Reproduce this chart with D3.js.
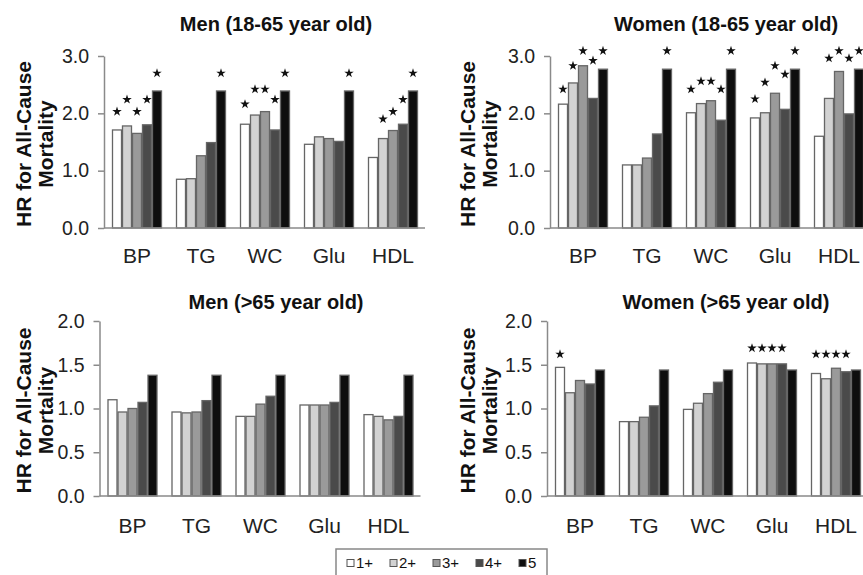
<!DOCTYPE html>
<html><head><meta charset="utf-8">
<script src="https://cdn.jsdelivr.net/npm/d3@7"></script>
<style>body{margin:0;background:#fff} svg{display:block}</style>
</head><body>
<svg id="c" width="863" height="575"></svg>
<script>
const categories = ["BP","TG","WC","Glu","HDL"];
const seriesNames = ["1+","2+","3+","4+","5"];
const ticksYoung = [0,1,2,3];
const ticksOld = [0,0.5,1,1.5,2];

// HR values: one row per category, one column per series
const menYoung = [
  [1.71,1.78,1.65,1.80,2.39],
  [0.85,0.86,1.26,1.49,2.39],
  [1.81,1.97,2.03,1.71,2.39],
  [1.46,1.59,1.56,1.51,2.39],
  [1.23,1.56,1.70,1.81,2.39]];
// significance marker levels (HR units), null = no marker
const menYoungSig = [
  [2.03,2.24,2.03,2.24,2.70],
  [null,null,null,null,2.70],
  [2.16,2.42,2.42,2.24,2.70],
  [null,null,null,null,2.70],
  [null,1.90,2.03,2.24,2.70]];
const womenYoung = [
  [2.16,2.53,2.83,2.26,2.77],
  [1.10,1.10,1.22,1.64,2.77],
  [2.01,2.17,2.22,1.88,2.77],
  [1.92,2.01,2.35,2.07,2.77],
  [1.60,2.26,2.73,1.99,2.77]];
const womenYoungSig = [
  [2.42,2.83,3.09,2.92,3.09],
  [null,null,null,null,3.09],
  [2.42,2.56,2.56,2.42,3.09],
  [2.25,2.54,2.83,2.68,3.09],
  [null,2.96,3.09,2.96,3.09]];
const menOld = [
  [1.10,0.96,1.00,1.07,1.38],
  [0.96,0.95,0.96,1.09,1.38],
  [0.91,0.91,1.05,1.14,1.38],
  [1.04,1.04,1.04,1.07,1.38],
  [0.93,0.91,0.87,0.91,1.38]];
const menOldSig = [
  [null,null,null,null,null],
  [null,null,null,null,null],
  [null,null,null,null,null],
  [null,null,null,null,null],
  [null,null,null,null,null]];
const womenOld = [
  [1.47,1.18,1.32,1.28,1.44],
  [0.85,0.85,0.90,1.03,1.44],
  [0.99,1.06,1.17,1.30,1.44],
  [1.52,1.51,1.51,1.51,1.44],
  [1.40,1.34,1.46,1.42,1.44]];
const womenOldSig = [
  [1.62,null,null,null,null],
  [null,null,null,null,null],
  [null,null,null,null,null],
  [1.69,1.69,1.69,1.69,null],
  [1.62,1.62,1.62,1.62,null]];

const fills = d3.scaleOrdinal().domain(seriesNames)
  .range(["#ffffff","#d2d2d2","#9a9a9a","#4a4a4a","#0e0e0e"]);
const FONT = "'Liberation Sans', Arial, Helvetica, sans-serif";

const panels = [
  {title:"Men (18-65 year old)", values:menYoung, sig:menYoungSig, ticks:ticksYoung, max:3,
   ax:104, top:56, bottom:228, tx:276, ty:31, yt:[31,53], ly:263},
  {title:"Women (18-65 year old)", values:womenYoung, sig:womenYoungSig, ticks:ticksYoung, max:3,
   ax:550, top:56, bottom:228, tx:726, ty:31, yt:[475,497], ly:263},
  {title:"Men (>65 year old)", values:menOld, sig:menOldSig, ticks:ticksOld, max:2,
   ax:99.5, top:321, bottom:496, tx:276, ty:309, yt:[31,53], ly:533},
  {title:"Women (>65 year old)", values:womenOld, sig:womenOldSig, ticks:ticksOld, max:2,
   ax:547, top:321, bottom:496, tx:726, ty:309, yt:[475,497], ly:533}
];

const svg = d3.select("#c");
const star = d3.symbol().type(d3.symbolStar).size(28);

panels.forEach(p => {
  const g = svg.append("g");
  const y = d3.scaleLinear().domain([0, p.max]).range([p.bottom, p.top]);
  const x0 = d3.scaleBand().domain(categories)
    .range([p.ax + 1, p.ax + 321]).paddingInner(0.21875).paddingOuter(0.109375);
  const x1 = d3.scaleBand().domain(seriesNames).range([0, x0.bandwidth()]);

  const groups = g.selectAll("g.cat").data(categories).join("g")
    .attr("class","cat").attr("transform", c => `translate(${x0(c)},0)`);

  const rows = (c, ci) => seriesNames.map((s, si) => ({s, v: p.values[ci][si], sig: p.sig[ci][si]}));

  groups.selectAll("rect").data(rows).join("rect")
    .attr("x", d => x1(d.s) + 0.5)
    .attr("width", x1.bandwidth() - 1)
    .attr("y", d => y(d.v))
    .attr("height", d => y(0) - y(d.v))
    .attr("fill", d => fills(d.s))
    .attr("stroke", "#666")
    .attr("stroke-width", 1.3);

  groups.selectAll("path.star").data((c, ci) => rows(c, ci).filter(d => d.sig != null)).join("path")
    .attr("class","star")
    .attr("d", star)
    .attr("transform", d => `translate(${x1(d.s) + x1.bandwidth()/2},${y(d.sig)})`)
    .attr("fill", "#111");

  // y axis
  const yAxis = d3.axisLeft(y).tickValues(p.ticks).tickFormat(d3.format(".1f"))
    .tickSize(6).tickSizeOuter(0).tickPadding(9);
  const ag = g.append("g").attr("transform", `translate(${p.ax},0)`).call(yAxis);
  ag.select(".domain").attr("stroke", "#8a8a8a").attr("stroke-width", 1.5);
  ag.selectAll(".tick line").attr("stroke", "#8a8a8a").attr("stroke-width", 1.5);
  ag.selectAll(".tick text").attr("font-family", FONT).attr("font-size", 19.5).attr("fill", "#222");

  // baseline
  g.append("line").attr("x1", p.ax).attr("x2", p.ax + 321)
    .attr("y1", y(0)).attr("y2", y(0)).attr("stroke", "#8a8a8a").attr("stroke-width", 1.5);

  // category labels
  g.selectAll("text.cl").data(categories).join("text").attr("class","cl")
    .attr("x", c => x0(c) + x0.bandwidth()/2).attr("y", p.ly)
    .attr("text-anchor","middle").attr("font-family", FONT).attr("font-size", 21).attr("fill","#222")
    .text(c => c);

  // title
  g.append("text").attr("x", p.tx).attr("y", p.ty).attr("text-anchor","middle")
    .attr("font-family", FONT).attr("font-weight","bold").attr("font-size", 20).attr("fill","#111")
    .text(p.title);

  // y title
  const yc = (p.top + p.bottom) / 2 + 2;
  ["HR for All-Cause","Mortality"].forEach((t, i) => {
    g.append("text").attr("transform", `translate(${p.yt[i]},${yc}) rotate(-90)`)
      .attr("text-anchor","middle").attr("font-family", FONT).attr("font-weight","bold")
      .attr("font-size", 21).attr("fill","#111").text(t);
  });
});

// legend
const lg = svg.append("g");
lg.append("rect").attr("x", 336).attr("y", 549).attr("width", 211).attr("height", 34)
  .attr("fill","none").attr("stroke","#888").attr("stroke-width",1.5);
const lx = d3.scalePoint().domain(seriesNames).range([347, 519]);
lg.selectAll("rect.sw").data(seriesNames).join("rect").attr("class","sw")
  .attr("x", s => lx(s)).attr("y", 559.5).attr("width", 7).attr("height", 7)
  .attr("fill", s => fills(s)).attr("stroke", "#555").attr("stroke-width", 1);
lg.selectAll("text").data(seriesNames).join("text")
  .attr("x", s => lx(s) + 9).attr("y", 568)
  .attr("font-family", FONT).attr("font-size", 15).attr("fill","#111").text(s => s);
</script>
</body></html>
